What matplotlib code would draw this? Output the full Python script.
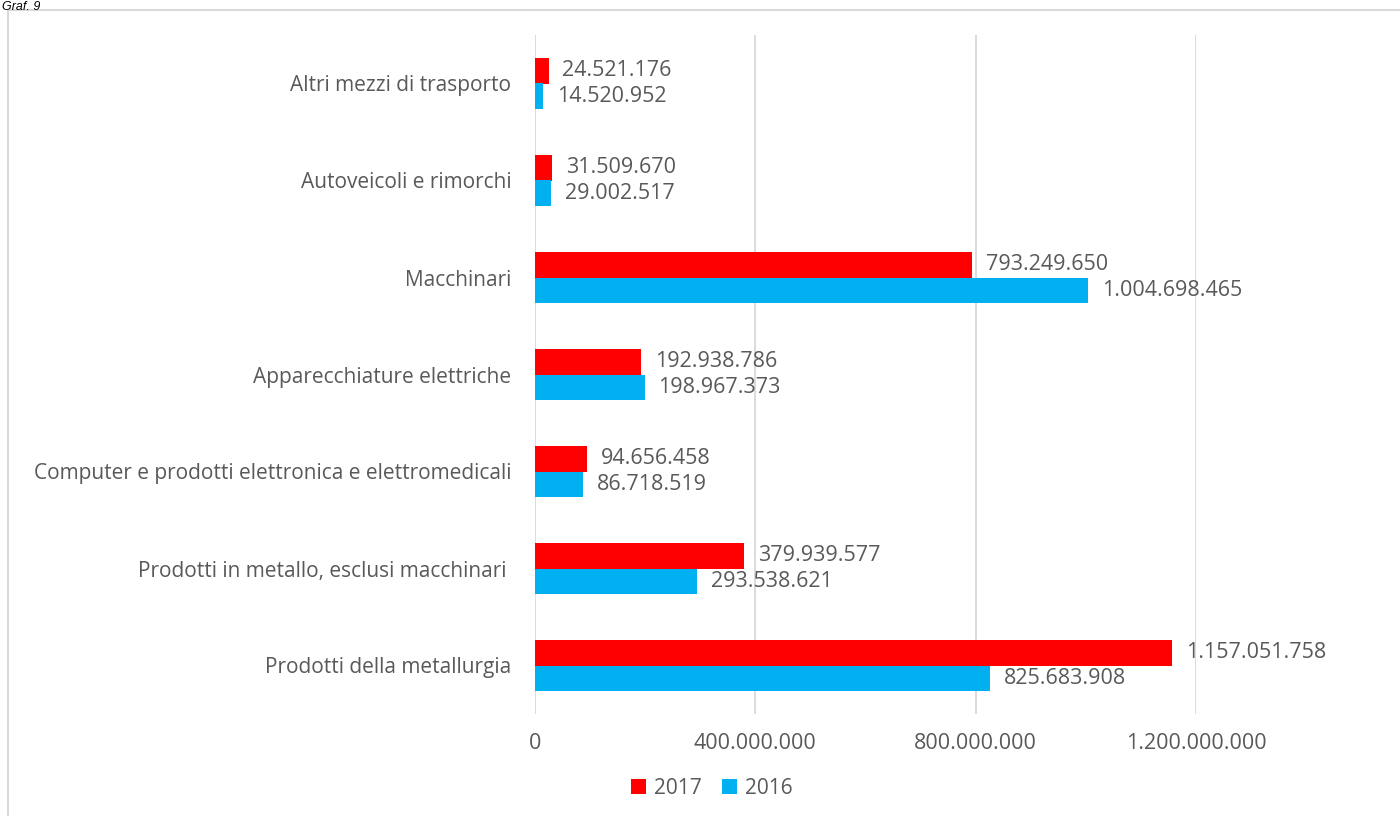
import matplotlib.pyplot as plt
from matplotlib.patches import Rectangle
import numpy as np

# data, bottom-to-top order as drawn
categories = ["Prodotti della metallurgia",
              "Prodotti in metallo, esclusi macchinari ",
              "Computer e prodotti elettronica e elettromedicali",
              "Apparecchiature elettriche",
              "Macchinari",
              "Autoveicoli e rimorchi",
              "Altri mezzi di trasporto"]
v2017 = [1157051758, 379939577, 94656458, 192938786, 793249650, 31509670, 24521176]
v2016 = [825683908, 293538621, 86718519, 198967373, 1004698465, 29002517, 14520952]
xticks = [0, 400000000, 800000000, 1200000000]

RED = "#FF0000"
BLUE = "#00B0F0"
GREY = "#595959"
FS = 15

plt.rcParams['font.family'] = ['Open Sans', 'DejaVu Sans']


def itfmt(v):
    return f"{int(v):,}".replace(",", ".")


fig = plt.figure(figsize=(14, 8.16), dpi=100)
W, H = 1400, 816
ax = fig.add_axes([535 / W, 1 - 714 / H, (1196 - 535) / W, (714 - 35) / H])

y = np.arange(len(categories))
h = 0.258
b17 = ax.barh(y + h / 2, v2017, height=h, color=RED, label="2017", zorder=3)
b16 = ax.barh(y - h / 2, v2016, height=h, color=BLUE, label="2016", zorder=3)

for bars, vals in ((b17, v2017), (b16, v2016)):
    for bar, v in zip(bars, vals):
        ax.annotate(itfmt(v), (v, bar.get_y() + bar.get_height() / 2),
                    xytext=(10, 0), textcoords="offset points",
                    va="center", ha="left", fontsize=FS + 0.5, color=GREY,
                    annotation_clip=False)

ax.set_xlim(0, 1200000000)
ax.set_ylim(-0.5, len(categories) - 0.5)
ax.set_xticks(xticks)
ax.set_xticklabels([itfmt(t) for t in xticks], fontsize=FS + 0.5, color=GREY)
ax.set_yticks(y)
ax.set_yticklabels(categories, fontsize=FS, color=GREY)
ax.tick_params(axis='y', length=0, pad=17)
ax.tick_params(axis='x', length=0, pad=14)
ax.grid(axis='x', color="#D9D9D9", linewidth=1.3, zorder=0)
for s in ax.spines.values():
    s.set_visible(False)

handles, labels = ax.get_legend_handles_labels()
fig.legend(handles, labels, loc="center", bbox_to_anchor=(712 / W, 1 - 788 / H),
           ncol=2, frameon=False, fontsize=FS, labelcolor=GREY,
           handlelength=0.7, handleheight=0.7, handletextpad=0.4, columnspacing=1.0)

# outer frame and caption
fig.patches.append(Rectangle((8 / W, -0.05), 1.2, 1 - 10 / H + 0.05,
                             transform=fig.transFigure, fill=False,
                             edgecolor="#D9D9D9", linewidth=1.5))
fig.text(2 / W, 1 - 1 / H, "Graf. 9", ha="left", va="top", fontsize=9,
         style="italic", family="Liberation Sans", color="black")

fig.savefig("out.png", dpi=100)
